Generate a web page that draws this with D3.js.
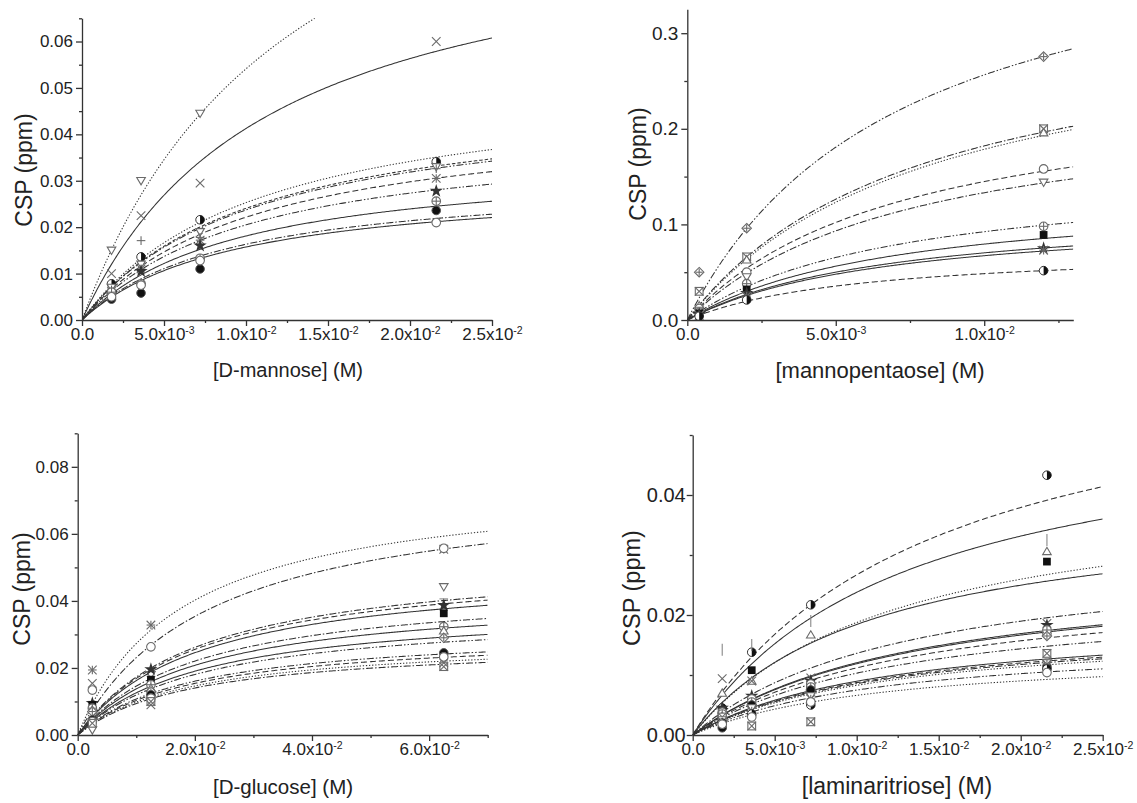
<!DOCTYPE html>
<html>
<head>
<meta charset="utf-8">
<script src="https://cdn.jsdelivr.net/npm/d3@7"></script>
<style>
  body { margin: 0; background: #fff; }
  text { font-family: "Liberation Sans", Arial, sans-serif; fill: #222; }
</style>
</head>
<body>
<svg id="fig" width="1137" height="803"></svg>
<script>
// ---------- D-mannose titration ----------
const mannoseConc = [0.0018, 0.0036, 0.0072, 0.0216];
const mannoseKd   = [0.0131, 0.0115, 0.0108, 0.0105, 0.0105, 0.0105, 0.0100, 0.0095, 0.0090, 0.0092];
const mannoseBmax = [0.125, 0.0887, 0.0526, 0.0493, 0.0486, 0.0454, 0.0410, 0.0353, 0.0310, 0.0302];
const mannoseCSP = [
  [0.0150, 0.0300, 0.0445, null],
  [0.0100, 0.0225, 0.0295, 0.0600],
  [0.0078, 0.0136, 0.0216, 0.0341],
  [0.0070, 0.0120, 0.0190, 0.0330],
  [0.0065, 0.0171, 0.0178, 0.0326],
  [0.0062, 0.0110, 0.0172, 0.0305],
  [0.0058, 0.0105, 0.0160, 0.0278],
  [0.0060, 0.0078, 0.0133, 0.0256],
  [0.0045, 0.0058, 0.0110, 0.0236],
  [0.0050, 0.0075, 0.0128, 0.0210]
];
const mannoseLine   = ["dot", "solid", "dot", "shortdash", "dashdotdot", "dash", "dashdotdot", "solid", "dashdot", "solid"];
const mannoseMarker = ["triDown", "cross", "circleHalf", "triDown", "plus", "asterisk", "star", "circlePlus", "circleDot", "circle"];

// ---------- mannopentaose titration ----------
const pentaConc = [0.0004, 0.002, 0.012];
const pentaKd   = [0.0072, 0.0079, 0.0082, 0.0072, 0.0075, 0.0070, 0.0070, 0.0068, 0.0068, 0.0058];
const pentaBmax = [0.441, 0.326, 0.325, 0.249, 0.233, 0.157, 0.135, 0.118, 0.113, 0.0766];
const pentaCSP = [
  [0.050, 0.096, 0.2755],
  [0.030, 0.066, 0.200],
  [0.015, 0.063, 0.196],
  [0.012, 0.050, 0.158],
  [0.010, 0.045, 0.144],
  [0.008, 0.038, 0.098],
  [0.007, 0.032, 0.089],
  [0.006, 0.028, 0.075],
  [0.005, 0.025, 0.073],
  [0.004, 0.021, 0.0516]
];
const pentaLine   = ["dashdotdot", "dashdot", "dot", "dash", "dashdot", "dashdotdot", "solid", "solid", "solid", "dash"];
const pentaMarker = ["diamondPlus", "squareX", "triUp", "circle", "triDown", "circlePlus", "square", "star", "asterisk", "circleHalf"];

// ---------- D-glucose titration ----------
const glucoseConc = [0.0025, 0.0125, 0.0625];
const glucoseKd   = [0.018, 0.0228, 0.021, 0.021, 0.021, 0.021, 0.021, 0.021, 0.021, 0.0195, 0.0195, 0.0195, 0.0195];
const glucoseBmax = [0.0764, 0.0757, 0.0536, 0.0523, 0.0503, 0.0452, 0.0426, 0.0390, 0.0370, 0.0317, 0.0304, 0.0289, 0.0277];
const glucoseCSP = [
  [0.0194, 0.0328, 0.0554],
  [0.0134, 0.0263, 0.0557],
  [0.0015, 0.0180, 0.0442],
  [0.0100, 0.0175, 0.0406],
  [0.0095, 0.0196, 0.0387],
  [0.0090, 0.0165, 0.0363],
  [0.0080, 0.0150, 0.0323],
  [0.0075, 0.0140, 0.0311],
  [0.0070, 0.0130, 0.0290],
  [0.0045, 0.0120, 0.0245],
  [0.0040, 0.0110, 0.0233],
  [0.0035, 0.0100, 0.0204],
  [0.0154, 0.0090, 0.0215]
];
const glucoseLine   = ["dot", "dashdot", "dashdot", "dash", "solid", "dashdot", "solid", "solid", "dashdotdot", "dashdotdot", "dash", "dot", "dashdot"];
const glucoseMarker = ["asterisk", "circle", "triDown", "dash", "star", "square", "circlePlus", "triUp", "diamondPlus", "circleDot", "circle", "squareX", "cross"];

// ---------- laminaritriose titration ----------
const lamConc = [0.0018, 0.0036, 0.0072, 0.0216];
const lamKd   = [0.0145, 0.013, 0.0125, 0.011, 0.013, 0.0135, 0.0135, 0.0135, 0.013, 0.012, 0.012, 0.012, 0.012, 0.0115, 0.0115];
const lamBmax = [0.0654, 0.0547, 0.0422, 0.0387, 0.0313, 0.0283, 0.0279, 0.0263, 0.0237, 0.0197, 0.0192, 0.0188, 0.0182, 0.0161, 0.0142];
const lamCSP = [
  [0.0045, 0.0138, 0.0217, 0.0433],
  [0.0142, 0.0150, 0.0190, 0.0325],
  [0.0070, 0.0090, 0.0167, 0.0306],
  [0.0040, 0.0108, 0.0085, 0.0289],
  [0.0094, 0.0090, 0.0095, 0.0186],
  [0.0045, 0.0065, 0.0090, 0.0183],
  [0.0038, 0.0060, 0.0085, 0.0169],
  [0.0035, 0.0055, 0.0080, 0.0175],
  [0.0030, 0.0050, 0.0075, 0.0165],
  [0.0030, 0.0015, 0.0022, 0.0136],
  [0.0012, 0.0050, 0.0075, 0.0114],
  [0.0025, 0.0045, 0.0065, 0.0120],
  [0.0022, 0.0040, 0.0060, 0.0118],
  [0.0020, 0.0035, 0.0050, 0.0110],
  [0.0018, 0.0030, 0.0055, 0.0104]
];
const lamLine   = ["dash", "solid", "dot", "solid", "dashdot", "solid", "solid", "dash", "dashdotdot", "solid", "dash", "dashdot", "dot", "dashdotdot", "dot"];
const lamMarker = ["circleHalf", "bar", "triUp", "square", "cross", "star", "circle", "circlePlus", "diamondPlus", "squareX", "circleDot", "triDown", "asterisk", "circleHalf", "circle"];

// ---------- axis ticks ----------
const mannoseXTicks = [0, 0.005, 0.01, 0.015, 0.02, 0.025];
const mannoseYTicks = [0, 0.01, 0.02, 0.03, 0.04, 0.05, 0.06];
const pentaXTicks   = [0, 0.005, 0.01];
const pentaYTicks   = [0, 0.1, 0.2, 0.3];
const glucoseXTicks = [0, 0.02, 0.04, 0.06];
const glucoseYTicks = [0, 0.02, 0.04, 0.06, 0.08];
const lamXTicks     = [0, 0.005, 0.01, 0.015, 0.02, 0.025];
const lamYTicks     = [0, 0.02, 0.04];

const panels = [
  { id: "man", conc: mannoseConc, kd: mannoseKd, bmax: mannoseBmax, csp: mannoseCSP, line: mannoseLine, marker: mannoseMarker,
    xMax: 0.025, yMax: 0.065, xTicks: mannoseXTicks, xMinorStep: 0.0025, yTicks: mannoseYTicks, yMinorStep: 0.005, yFmt: ".2f",
    box: { l: 82, r: 492, t: 18.3, b: 320 },
    xTitle: "[D-mannose] (M)", xTitleX: 288, xTitleY: 370, xTitleSize: 20,
    yTitleX: 24, yTitleY: 170, yTitleSize: 23, xTickSize: 17, yTickSize: 17, yPad: 3 },
  { id: "pen", conc: pentaConc, kd: pentaKd, bmax: pentaBmax, csp: pentaCSP, line: pentaLine, marker: pentaMarker,
    xMax: 0.013, yMax: 0.325, xTicks: pentaXTicks, xMinorStep: 0.0025, yTicks: pentaYTicks, yMinorStep: 0.05, yFmt: ".1f",
    box: { l: 687.3, r: 1073.3, t: 9.3, b: 320 },
    xTitle: "[mannopentaose] (M)", xTitleX: 880, xTitleY: 370, xTitleSize: 22,
    yTitleX: 638, yTitleY: 164, yTitleSize: 23, xTickSize: 17, yTickSize: 19, yPad: 3 },
  { id: "glc", conc: glucoseConc, kd: glucoseKd, bmax: glucoseBmax, csp: glucoseCSP, line: glucoseLine, marker: glucoseMarker,
    xMax: 0.07, yMax: 0.09, xTicks: glucoseXTicks, xMinorStep: 0.01, yTicks: glucoseYTicks, yMinorStep: 0.01, yFmt: ".2f",
    box: { l: 77.7, r: 487.7, t: 433.3, b: 735 },
    xTitle: "[D-glucose] (M)", xTitleX: 283, xTitleY: 786, xTitleSize: 20.5,
    yTitleX: 22, yTitleY: 589, yTitleSize: 23, xTickSize: 17, yTickSize: 17, yPad: 3 },
  { id: "lam", conc: lamConc, kd: lamKd, bmax: lamBmax, csp: lamCSP, line: lamLine, marker: lamMarker,
    xMax: 0.025, yMax: 0.05, xTicks: lamXTicks, xMinorStep: 0.0025, yTicks: lamYTicks, yMinorStep: 0.01, yFmt: ".2f",
    box: { l: 692.7, r: 1102.7, t: 435, b: 735 },
    xTitle: "[laminaritriose] (M)", xTitleX: 897, xTitleY: 786, xTitleSize: 23,
    yTitleX: 632, yTitleY: 588, yTitleSize: 23.5, xTickSize: 17, yTickSize: 20, yPad: 1 }
];

const dashes = {
  solid: null,
  dash: "6,3",
  shortdash: "3.5,2",
  dot: "1.3,1.8",
  dashdot: "7,2,1.5,2",
  dashdotdot: "7,2,1.5,2,1.5,2"
};

const svg = d3.select("#fig");
svg.append("rect").attr("width", 1137).attr("height", 803).attr("fill", "#fff");

const GREY = "#6a6a6a";

function drawMarker(g, type, cx, cy) {
  const r = 4.3;
  const m = g.append("g").attr("transform", `translate(${cx},${cy})`);
  const line = (x1, y1, x2, y2, c) => m.append("line").attr("x1", x1).attr("y1", y1).attr("x2", x2).attr("y2", y2)
    .attr("stroke", c || GREY).attr("stroke-width", 1.1);
  switch (type) {
    case "triDown":
      m.append("path").attr("d", `M${-r},${-r * 0.75}L${r},${-r * 0.75}L0,${r * 0.95}Z`)
        .attr("fill", "#fff").attr("stroke", GREY).attr("stroke-width", 1.1); break;
    case "triUp":
      m.append("path").attr("d", `M${-r},${r * 0.75}L${r},${r * 0.75}L0,${-r * 0.95}Z`)
        .attr("fill", "#fff").attr("stroke", GREY).attr("stroke-width", 1.1); break;
    case "cross":
      line(-r, -r, r, r); line(-r, r, r, -r); break;
    case "plus":
      line(-r, 0, r, 0); line(0, -r, 0, r); break;
    case "asterisk":
      line(-r, -r, r, r); line(-r, r, r, -r); line(-r, 0, r, 0); line(0, -r, 0, r); break;
    case "bar":
      line(0, -r * 1.4, 0, r * 1.4, "#888"); break;
    case "dash":
      line(-r, 0, r, 0, "#888"); break;
    case "circle":
      m.append("circle").attr("r", r).attr("fill", "#fff").attr("stroke", GREY).attr("stroke-width", 1.1); break;
    case "circleDot":
      m.append("circle").attr("r", r).attr("fill", "#111").attr("stroke", "#555").attr("stroke-width", 1); break;
    case "circleHalf":
      m.append("circle").attr("r", r).attr("fill", "#fff").attr("stroke", "#333").attr("stroke-width", 1);
      m.append("path").attr("d", `M0,${-r}A${r},${r} 0 0 1 0,${r}Z`).attr("fill", "#111"); break;
    case "circlePlus":
      m.append("circle").attr("r", r).attr("fill", "#fff").attr("stroke", GREY).attr("stroke-width", 1.1);
      line(-r, 0, r, 0); line(0, -r, 0, r); break;
    case "square":
      m.append("rect").attr("x", -r * 0.9).attr("y", -r * 0.9).attr("width", r * 1.8).attr("height", r * 1.8).attr("fill", "#111"); break;
    case "squareX":
      m.append("rect").attr("x", -r * 0.9).attr("y", -r * 0.9).attr("width", r * 1.8).attr("height", r * 1.8)
        .attr("fill", "#fff").attr("stroke", GREY).attr("stroke-width", 1.1);
      line(-r, -r, r, r); line(-r, r, r, -r); break;
    case "diamondPlus":
      m.append("path").attr("d", `M0,${-r * 1.1}L${r * 1.1},0L0,${r * 1.1}L${-r * 1.1},0Z`)
        .attr("fill", "#fff").attr("stroke", GREY).attr("stroke-width", 1.1);
      line(-r * 0.8, 0, r * 0.8, 0); line(0, -r * 0.8, 0, r * 0.8); break;
    case "star":
      m.append("path").attr("d", d3.symbol(d3.symbolStar, 55)()).attr("fill", "#333"); break;
  }
}

function sciLabel(textSel, v) {
  textSel.text(null);
  if (v === 0) { textSel.text("0.0"); return; }
  const e = Math.floor(Math.log10(v) + 1e-9);
  const mant = v / Math.pow(10, e);
  textSel.append("tspan").text(mant.toFixed(1) + "x10");
  textSel.append("tspan").attr("dy", "-0.55em").attr("font-size", "0.62em").text(String(e));
}

panels.forEach(p => {
  const g = svg.append("g").attr("class", "panel-" + p.id);
  const x = d3.scaleLinear().domain([0, p.xMax]).range([p.box.l, p.box.r]);
  const y = d3.scaleLinear().domain([0, p.yMax]).range([p.box.b, p.box.t]);

  const clipId = "clip-" + p.id;
  svg.append("clipPath").attr("id", clipId).append("rect")
    .attr("x", p.box.l).attr("y", p.box.t).attr("width", p.box.r - p.box.l).attr("height", p.box.b - p.box.t);

  // fitted single-site binding curves: CSP = Bmax * L / (Kd + L)
  const samples = d3.range(0, 301).map(i => p.xMax * i / 300);
  const curves = g.append("g").attr("clip-path", `url(#${clipId})`);
  p.kd.forEach((kd, i) => {
    const pts = samples.map(c => [c, p.bmax[i] * c / (kd + c)]);
    curves.append("path")
      .attr("d", d3.line().x(d => x(d[0])).y(d => y(d[1]))(pts))
      .attr("fill", "none")
      .attr("stroke", "#333")
      .attr("stroke-width", 1.05)
      .attr("stroke-dasharray", dashes[p.line[i]]);
  });

  // measured shifts
  const marks = g.append("g");
  p.csp.forEach((row, i) => {
    row.forEach((v, j) => {
      if (v == null || v > p.yMax) return;
      drawMarker(marks, p.marker[i], x(p.conc[j]), y(v));
    });
  });

  // axes
  const xMinor = d3.range(0, p.xMax + 1e-9, p.xMinorStep).filter(v => !p.xTicks.some(t => Math.abs(t - v) < 1e-9));
  const yMinor = d3.range(0, p.yMax + 1e-9, p.yMinorStep).filter(v => !p.yTicks.some(t => Math.abs(t - v) < 1e-9));

  const ax = g.append("g").attr("transform", `translate(0,${p.box.b})`)
    .call(d3.axisBottom(x).tickValues(p.xTicks).tickSize(6).tickSizeOuter(0).tickPadding(2));
  ax.selectAll(".tick text").each(function (d) { sciLabel(d3.select(this), d); });
  ax.selectAll(".tick text").attr("font-size", p.xTickSize);
  g.append("g").attr("transform", `translate(0,${p.box.b})`)
    .call(d3.axisBottom(x).tickValues(xMinor).tickSize(3).tickFormat(""))
    .select(".domain").remove();

  const ay = g.append("g").attr("transform", `translate(${p.box.l},0)`)
    .call(d3.axisLeft(y).tickValues(p.yTicks).tickSize(6).tickSizeOuter(0).tickPadding(p.yPad).tickFormat(d3.format(p.yFmt)));
  ay.selectAll(".tick text").attr("font-size", p.yTickSize);
  g.append("g").attr("transform", `translate(${p.box.l},0)`)
    .call(d3.axisLeft(y).tickValues(yMinor).tickSize(3).tickFormat(""))
    .select(".domain").remove();

  g.selectAll(".domain, .tick line").attr("stroke", "#333").attr("stroke-width", 1.3);
  g.selectAll(".tick text").attr("font-family", "Liberation Sans, Arial, sans-serif").attr("fill", "#222");
  [ax, ay].forEach(a => a.attr("font-size", null).attr("font-family", null));

  // titles
  g.append("text")
    .attr("x", p.xTitleX).attr("y", p.xTitleY)
    .attr("text-anchor", "middle").attr("dominant-baseline", "central").attr("font-size", p.xTitleSize).text(p.xTitle);
  g.append("text")
    .attr("transform", `translate(${p.yTitleX},${p.yTitleY}) rotate(-90)`)
    .attr("text-anchor", "middle").attr("dominant-baseline", "central").attr("font-size", p.yTitleSize).text("CSP (ppm)");
});
</script>
</body>
</html>
